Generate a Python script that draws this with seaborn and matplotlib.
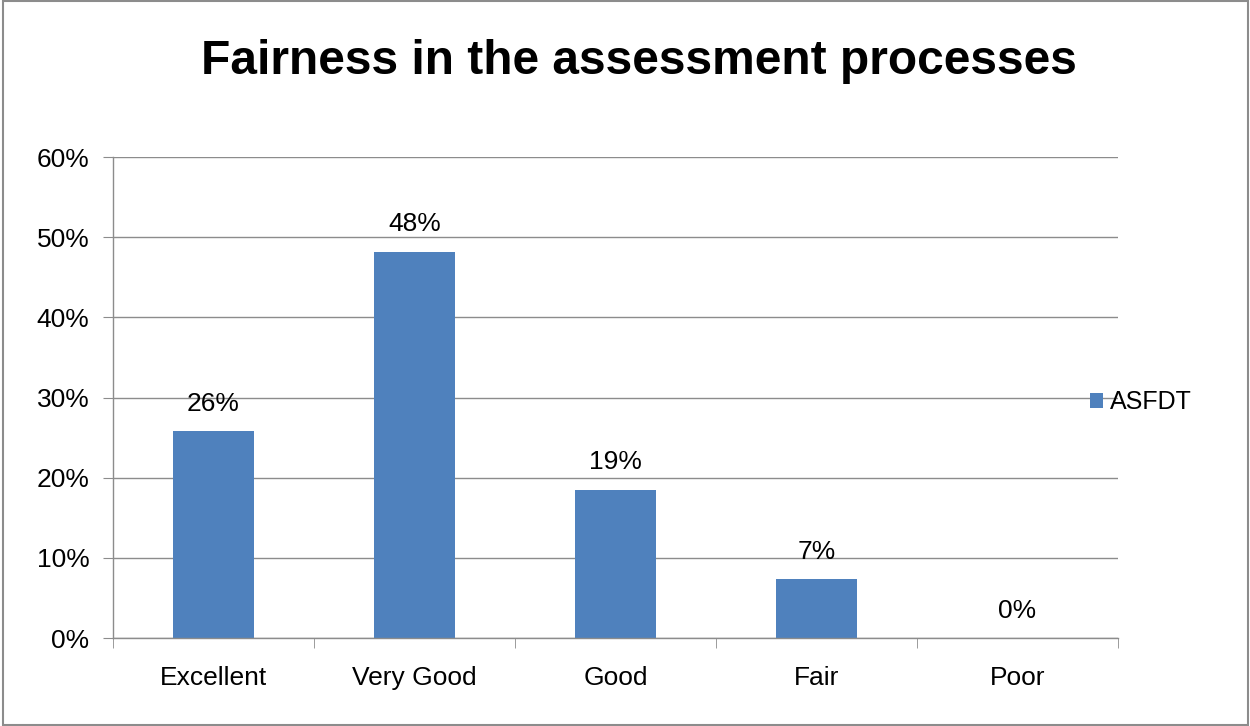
import numpy as np
import pandas as pd
import seaborn as sns
import matplotlib.pyplot as plt
from matplotlib.ticker import PercentFormatter, FixedLocator

# datos
categorias = ["Excellent", "Very Good", "Good", "Fair", "Poor"]
valores = [25.8, 48.2, 18.5, 7.3, 0.0]
etiquetas = ["26%", "48%", "19%", "7%", "0%"]
serie = "ASFDT"

df = pd.DataFrame({"Categoria": categorias, "Valor": valores, "Serie": serie})

sns.set_style("white")
plt.rcParams["font.family"] = ["Liberation Sans", "DejaVu Sans"]
plt.rcParams["text.color"] = "black"
plt.rcParams["xtick.color"] = "black"
plt.rcParams["ytick.color"] = "black"

fig = plt.figure(figsize=(12.5, 7.26), dpi=100)
ax = fig.add_axes([0.0904, 0.1212, 0.804, 0.6625])

sns.barplot(data=df, x="Categoria", y="Valor", hue="Serie",
            palette=["#4F81BD"], saturation=1, width=0.4, linewidth=0,
            ax=ax, legend=True)

# etiquetas de datos
for i, (v, t) in enumerate(zip(valores, etiquetas)):
    ax.text(i, v + 1.9, t, ha="center", va="bottom", fontsize=19)

ax.set_ylim(0, 60)
ax.set_xlim(-0.5, len(categorias) - 0.5)
ax.set_yticks(np.arange(0, 61, 10))
ax.yaxis.set_major_formatter(PercentFormatter(decimals=0))
ax.grid(axis="y", color="#8C8C8C", linewidth=1)
ax.set_axisbelow(True)

for lado in ["top", "right"]:
    ax.spines[lado].set_visible(False)
for lado in ["left", "bottom"]:
    ax.spines[lado].set_color("#8C8C8C")
    ax.spines[lado].set_linewidth(1)

ax.set_xlabel("")
ax.set_ylabel("")
ax.tick_params(axis="y", which="major", left=True, length=7, color="#8C8C8C",
               labelcolor="black", labelsize=19, pad=10)
ax.tick_params(axis="x", which="major", bottom=False, labelcolor="black",
               labelsize=19, pad=17)
ax.xaxis.set_minor_locator(FixedLocator(np.arange(-0.5, len(categorias), 1)))
ax.tick_params(axis="x", which="minor", bottom=True, length=7, color="#8C8C8C")

leg = ax.legend(loc="center left", bbox_to_anchor=(0.95, 0.49), frameon=False,
                fontsize=18, handlelength=0.5, handleheight=0.5, handletextpad=0.3)

fig.suptitle("Fairness in the assessment processes", fontsize=34.5,
             fontweight="bold", color="black", x=0.511, y=0.946)

# borde exterior del grafico
fig.patches.append(plt.Rectangle((0.002, 0.002), 0.996, 0.996, transform=fig.transFigure,
                                 fill=False, edgecolor="#8C8C8C", linewidth=1.5))

plt.savefig("out.png", dpi=100)
plt.close()
